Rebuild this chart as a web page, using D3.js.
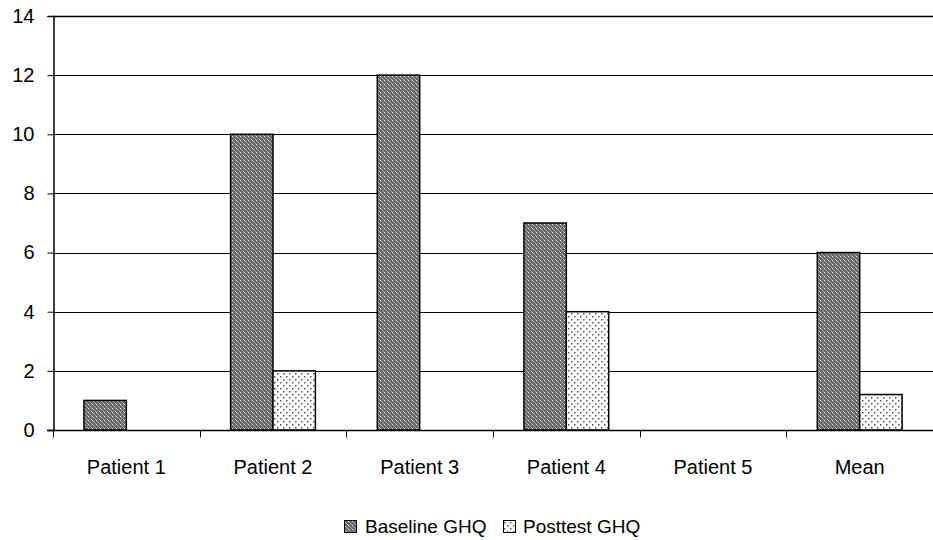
<!DOCTYPE html>
<html>
<head>
<meta charset="utf-8">
<script src="https://cdn.jsdelivr.net/npm/d3@7/dist/d3.min.js"></script>
<style>
  html, body { margin: 0; padding: 0; background: #fff; }
  svg { display: block; font-family: "Liberation Sans", Arial, sans-serif; }
</style>
</head>
<body>
<svg id="chart" width="933" height="540"></svg>
<script>
// GHQ scores per patient, before and after treatment
const categories = ["Patient 1", "Patient 2", "Patient 3", "Patient 4", "Patient 5", "Mean"];
const baselineGHQ = [1, 10, 12, 7, 0, 6];
const posttestGHQ = [0, 2, 0, 4, 0, 1.2];
const seriesNames = ["Baseline GHQ", "Posttest GHQ"];
const yTicks = [0, 2, 4, 6, 8, 10, 12, 14];

const svg = d3.select("#chart");
const margin = { left: 53, right: 0, top: 16, bottom: 110 };
const W = 933, H = 540;

// fill patterns: dark checker for baseline, sparse dots for posttest
const defs = svg.append("defs");
const p1 = defs.append("pattern").attr("id", "patBase")
  .attr("patternUnits", "userSpaceOnUse").attr("width", 4).attr("height", 4);
p1.append("rect").attr("width", 4).attr("height", 4).attr("fill", "#6a6a6a");
[[0,0],[2,2],[1,1],[3,3]].forEach(([x,y]) =>
  p1.append("rect").attr("x", x).attr("y", y).attr("width", 1).attr("height", 1).attr("fill", "#a8a8a8"));
p1.append("rect").attr("x", 0).attr("y", 0).attr("width", 1).attr("height", 1).attr("fill", "#e8e8e8");

const p2 = defs.append("pattern").attr("id", "patPost")
  .attr("patternUnits", "userSpaceOnUse").attr("width", 6).attr("height", 6);
p2.append("rect").attr("width", 6).attr("height", 6).attr("fill", "#fff");
p2.append("rect").attr("x", 1).attr("y", 1).attr("width", 1.5).attr("height", 1.5).attr("fill", "#555");
p2.append("rect").attr("x", 4).attr("y", 4).attr("width", 1.5).attr("height", 1.5).attr("fill", "#555");

const x = d3.scaleBand().domain(categories).range([margin.left, W - margin.right]);
const inner = d3.scaleBand().domain(seriesNames).range([0, x.bandwidth()]).paddingInner(0).paddingOuter(0.73);
const y = d3.scaleLinear().domain([0, 14]).range([H - margin.bottom, margin.top]);

// horizontal gridlines
svg.append("g").selectAll("line").data(yTicks.filter(d => d > 0)).join("line")
  .attr("x1", margin.left).attr("x2", W - margin.right)
  .attr("y1", d => Math.round(y(d)) + 0.5).attr("y2", d => Math.round(y(d)) + 0.5)
  .attr("stroke", "#000").attr("stroke-width", 1);

// bars
const series = [
  { name: seriesNames[0], values: baselineGHQ, fill: "url(#patBase)" },
  { name: seriesNames[1], values: posttestGHQ, fill: "url(#patPost)" }
];
series.forEach(s => {
  svg.append("g").selectAll("rect").data(categories.map((c, i) => ({ c, v: s.values[i] })))
    .join("rect")
    .filter(d => d.v > 0)
    .attr("x", d => x(d.c) + inner(s.name))
    .attr("y", d => y(d.v))
    .attr("width", inner.bandwidth())
    .attr("height", d => y(0) - y(d.v))
    .attr("fill", s.fill)
    .attr("stroke", "#000").attr("stroke-width", 1.5);
});

// y axis
const yAxis = d3.axisLeft(y).tickValues(yTicks).tickSize(6).tickPadding(13).tickFormat(d3.format("d"));
const gy = svg.append("g").attr("transform", `translate(${margin.left + 0.5},0)`).call(yAxis);
gy.select(".domain").attr("stroke", "#000").attr("stroke-width", 1.5);
gy.selectAll(".tick line").attr("stroke", "#000");
gy.selectAll("text").attr("font-size", 20).attr("fill", "#000");

// x axis with ticks between categories
const gx = svg.append("g").attr("transform", `translate(0,${y(0) + 0.5})`);
gx.append("line").attr("x1", margin.left - 6).attr("x2", W).attr("stroke", "#000").attr("stroke-width", 1.5);
gx.selectAll(".sep").data(categories.slice(1)).join("line").attr("class", "sep")
  .attr("x1", d => Math.round(x(d)) + 0.5).attr("x2", d => Math.round(x(d)) + 0.5)
  .attr("y1", 0).attr("y2", 7).attr("stroke", "#000");
gx.append("line").attr("x1", margin.left + 0.5).attr("x2", margin.left + 0.5).attr("y1", 0).attr("y2", 7).attr("stroke", "#000");
gx.selectAll("text").data(categories).join("text")
  .attr("x", d => x(d) + x.bandwidth() / 2).attr("y", 43)
  .attr("text-anchor", "middle").attr("font-size", 20).attr("fill", "#000").text(d => d);

// top border
svg.append("line").attr("x1", margin.left).attr("x2", W).attr("y1", margin.top + 0.5).attr("y2", margin.top + 0.5)
  .attr("stroke", "#000").attr("stroke-width", 1.5);

// legend
const legend = svg.append("g").attr("transform", "translate(344,533)");
const legendItems = [
  { name: seriesNames[0], fill: "url(#patBase)", x: 0 },
  { name: seriesNames[1], fill: "url(#patPost)", x: 159 }
];
legendItems.forEach(it => {
  const g = legend.append("g").attr("transform", `translate(${it.x},0)`);
  g.append("rect").attr("x", 0.5).attr("y", -12.5).attr("width", 12).attr("height", 12)
    .attr("fill", it.fill).attr("stroke", "#000");
  g.append("text").attr("x", it.x === 0 ? 21 : 20).attr("y", 0).attr("font-size", 19).attr("fill", "#000").text(it.name);
});
</script>
</body>
</html>
